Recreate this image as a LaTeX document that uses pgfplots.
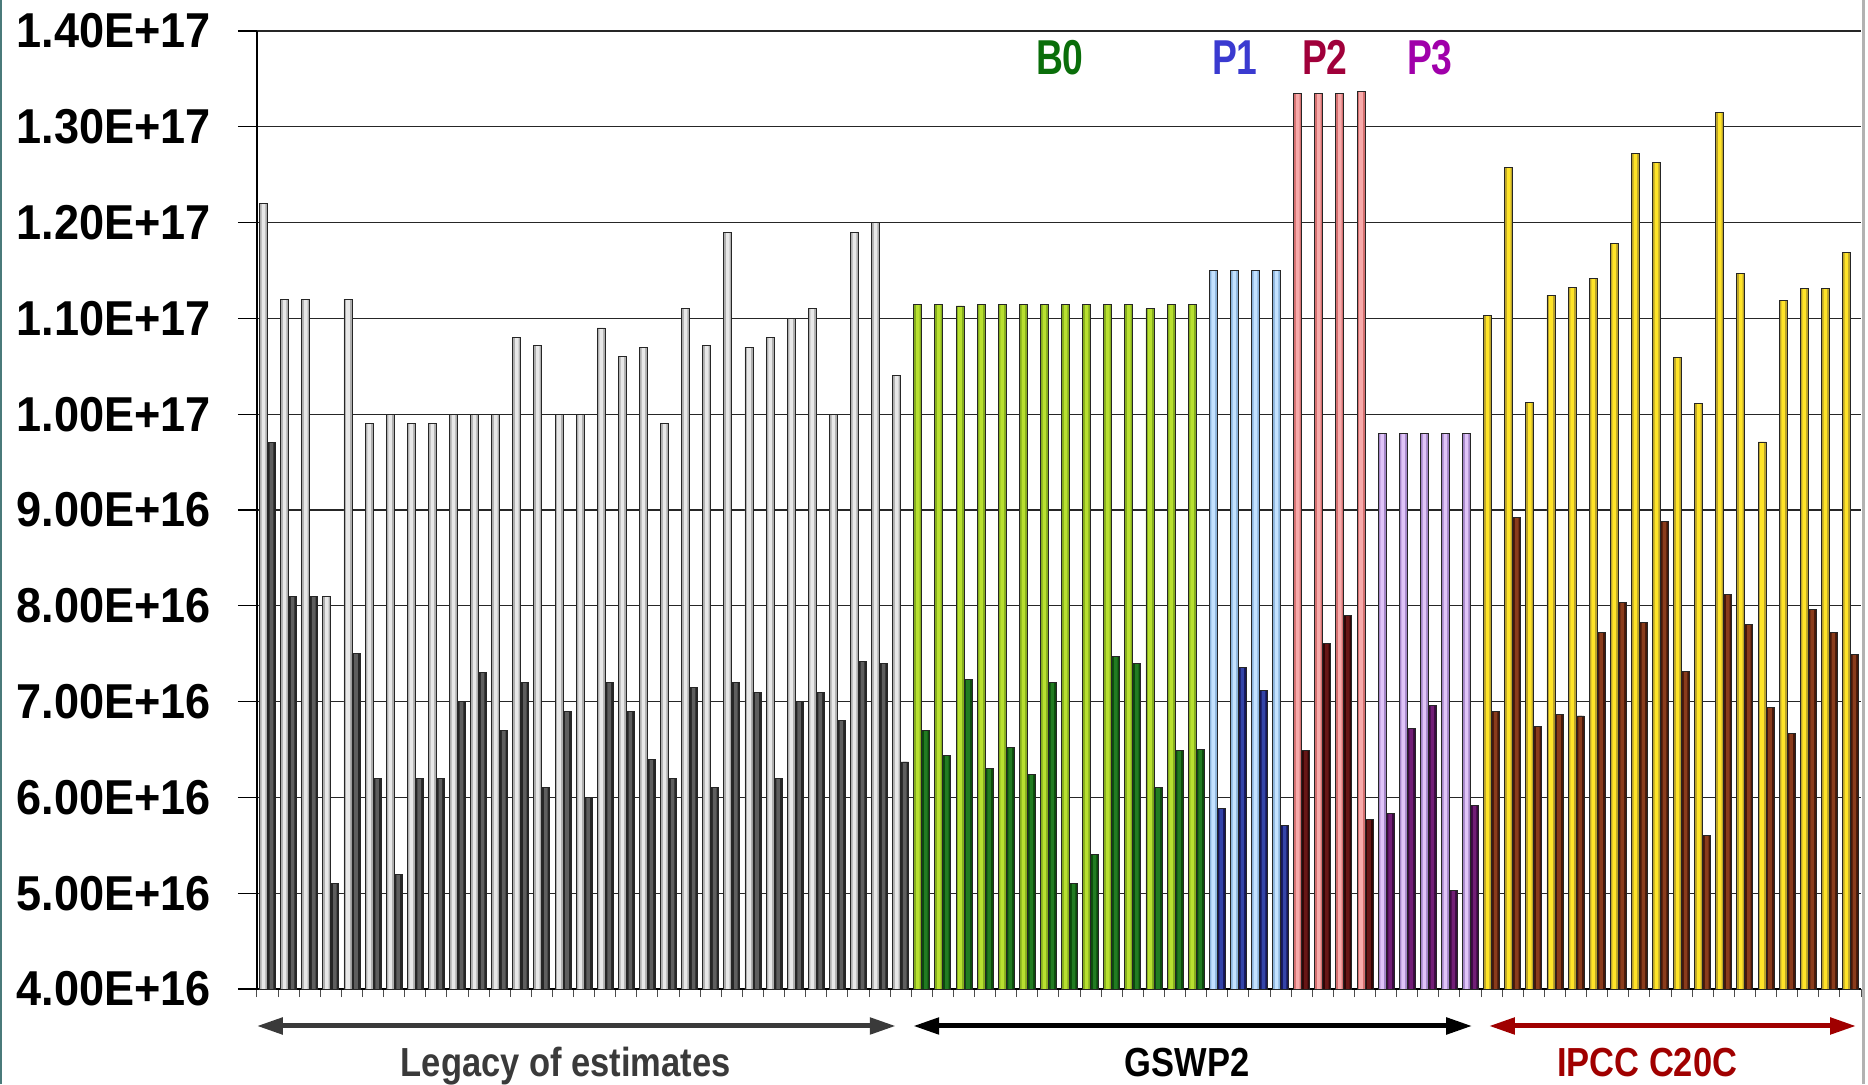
\documentclass[border=0pt]{standalone}
\usepackage{fontspec}
\setmainfont{Liberation Sans}
\newfontfamily\tickfont[FakeStretch=0.92]{Liberation Sans}
\newfontfamily\condfont[FakeStretch=0.85]{Liberation Sans}
\newfontfamily\topfont[FakeStretch=0.76]{Liberation Sans}
\usepackage{pgfplots}
\usepackage{pgfplotstable}
\pgfplotsset{compat=1.18}
\usetikzlibrary{arrows.meta}

% colours: base (edge) / stripe (middle) of each bar
\definecolor{gLe}{HTML}{AEAEAE}\definecolor{gLm}{HTML}{E8E8E8}
\definecolor{gDe}{HTML}{262626}\definecolor{gDm}{HTML}{5E5E5E}
\definecolor{nLe}{HTML}{86AE1E}\definecolor{nLm}{HTML}{B8E030}
\definecolor{nDe}{HTML}{0C4A0C}\definecolor{nDm}{HTML}{227C22}
\definecolor{bLe}{HTML}{8CB4DC}\definecolor{bLm}{HTML}{C4E2FF}
\definecolor{bDe}{HTML}{161658}\definecolor{bDm}{HTML}{3444A8}
\definecolor{rLe}{HTML}{D47070}\definecolor{rLm}{HTML}{F8AAAA}
\definecolor{rDe}{HTML}{300505}\definecolor{rDm}{HTML}{681616}
\definecolor{pLe}{HTML}{A486C8}\definecolor{pLm}{HTML}{E0C4F8}
\definecolor{pDe}{HTML}{3A0A40}\definecolor{pDm}{HTML}{721E76}
\definecolor{yLe}{HTML}{BCA42A}\definecolor{yLm}{HTML}{FFE428}
\definecolor{yDe}{HTML}{461809}\definecolor{yDm}{HTML}{8A3C1C}
\definecolor{txtB0}{HTML}{0A6E0A}
\definecolor{txtP1}{HTML}{3A3AD0}
\definecolor{txtP2}{HTML}{A0003A}
\definecolor{txtP3}{HTML}{A000AA}
\definecolor{legacyc}{HTML}{3A3A3A}
\definecolor{ipccc}{HTML}{A00000}
\definecolor{edgeteal}{HTML}{4A7A7A}

% values in units of 1E+16
\pgfplotstableread{
x light dark
0 12.2 9.7
1 11.2 8.1
2 11.2 8.1
3 8.1 5.1
4 11.2 7.5
5 9.9 6.2
6 10.0 5.2
7 9.9 6.2
8 9.9 6.2
9 10.0 7.0
10 10.0 7.3
11 10.0 6.7
12 10.8 7.2
13 10.72 6.1
14 10.0 6.9
15 10.0 6.0
16 10.9 7.2
17 10.6 6.9
18 10.7 6.4
19 9.9 6.2
20 11.1 7.15
21 10.72 6.1
22 11.9 7.2
23 10.7 7.1
24 10.8 6.2
25 11.0 7.0
26 11.1 7.1
27 10.0 6.8
28 11.9 7.42
29 12.0 7.4
30 10.4 6.37
}\legacy

\pgfplotstableread{
x light dark
31 11.15 6.70
32 11.15 6.44
33 11.13 7.23
34 11.15 6.30
35 11.15 6.52
36 11.15 6.24
37 11.15 7.20
38 11.15 5.10
39 11.15 5.40
40 11.15 7.47
41 11.15 7.40
42 11.10 6.10
43 11.15 6.49
44 11.15 6.50
}\bzero

\pgfplotstableread{
x light dark
45 11.5 5.88
46 11.5 7.36
47 11.5 7.12
48 11.5 5.71
}\pone

\pgfplotstableread{
x light dark
49 13.35 6.49
50 13.35 7.61
51 13.35 7.90
52 13.37 5.77
}\ptwo

\pgfplotstableread{
x light dark
53 9.8 5.83
54 9.8 6.72
55 9.8 6.96
56 9.8 5.03
57 9.8 5.92
}\pthree

\pgfplotstableread{
x light dark
58 11.03 6.90
59 12.58 8.92
60 10.12 6.74
61 11.24 6.87
62 11.32 6.85
63 11.42 7.72
64 11.78 8.03
65 12.72 7.83
66 12.63 8.88
67 10.59 7.31
68 10.11 5.60
69 13.15 8.12
70 11.47 7.81
71 9.71 6.94
72 11.19 6.67
73 11.31 7.96
74 11.31 7.72
75 11.69 7.49
}\ipcc

\pgfplotsset{
  basebar/.style={bar width=4pt, draw=none, fill=#1},
  stripebar/.style={bar width=1.8pt, draw=none, fill=#1},
  outlbar/.style={bar width=4pt, fill=none, draw=black!85, line width=0.45pt},
}
% \pairbars{table}{light base}{light stripe}{dark base}{dark stripe}
\newcommand{\pairbars}[5]{%
  \addplot[basebar=#2, bar shift=-2pt] table[x=x,y=light]{#1};
  \addplot[stripebar=#3, bar shift=-2pt] table[x=x,y=light]{#1};
  \addplot[outlbar, bar shift=-2pt] table[x=x,y=light]{#1};
  \addplot[basebar=#4, bar shift=2pt] table[x=x,y=dark]{#1};
  \addplot[stripebar=#5, bar shift=2pt] table[x=x,y=dark]{#1};
  \addplot[outlbar, bar shift=2pt] table[x=x,y=dark]{#1};
}

\begin{document}
\begin{tikzpicture}
\path[use as bounding box] (-128.5pt,-47.5pt) rectangle (805.5pt,494.5pt);
\begin{axis}[
  at={(0pt,0pt)}, anchor=south west,
  scale only axis, width=802pt, height=479pt,
  xmin=-0.5, xmax=75.5, ymin=4, ymax=14,
  ybar, bar width=4pt,
  clip mode=individual,
  axis lines*=left,
  axis line style={-, black, line width=0.7pt},
  ytick={4,5,...,14},
  yticklabels={4.00E+16,5.00E+16,6.00E+16,7.00E+16,8.00E+16,9.00E+16,1.00E+17,1.10E+17,1.20E+17,1.30E+17,1.40E+17},
  ymajorgrids,
  grid style={black!85, line width=0.6pt},
  tick align=outside,
  major tick length=9.5pt,
  xtick={-0.5,0.5,...,75.5},
  xticklabels={},
  xtick style={/pgfplots/major tick length=4pt, black!70, line width=0.5pt},
  ytick style={black, line width=0.6pt},
  yticklabel style={font=\tickfont\bfseries\fontsize{24.5}{26}\selectfont, anchor=east, xshift=-10pt},
]
\pairbars{\legacy}{gLe}{gLm}{gDe}{gDm}
\pairbars{\bzero}{nLe}{nLm}{nDe}{nDm}
\pairbars{\pone}{bLe}{bLm}{bDe}{bDm}
\pairbars{\ptwo}{rLe}{rLm}{rDe}{rDm}
\pairbars{\pthree}{pLe}{pLm}{pDe}{pDm}
\pairbars{\ipcc}{yLe}{yLm}{yDe}{yDm}

% group labels on top
\node[font=\topfont\bfseries\fontsize{24.5}{26}\selectfont, text=txtB0] at (axis cs:37.54,13.72) {B0};
\node[font=\topfont\bfseries\fontsize{24.5}{26}\selectfont, text=txtP1] at (axis cs:45.83,13.72) {P1};
\node[font=\topfont\bfseries\fontsize{24.5}{26}\selectfont, text=txtP2] at (axis cs:50.10,13.72) {P2};
\node[font=\topfont\bfseries\fontsize{24.5}{26}\selectfont, text=txtP3] at (axis cs:55.07,13.72) {P3};

% bottom arrows and labels
\draw[{Triangle[length=13pt,width=8pt]}-{Triangle[length=13pt,width=8pt]}, line width=2.5pt, color=legacyc]
  (axis cs:-0.51,3.614) -- (axis cs:29.77,3.614);
\draw[{Triangle[length=13pt,width=8pt]}-{Triangle[length=13pt,width=8pt]}, line width=2.5pt, color=black]
  (axis cs:30.59,3.614) -- (axis cs:57.08,3.614);
\draw[{Triangle[length=13pt,width=8pt]}-{Triangle[length=13pt,width=8pt]}, line width=2.5pt, color=ipccc]
  (axis cs:57.87,3.614) -- (axis cs:75.27,3.614);
\node[anchor=base, font=\condfont\bfseries\fontsize{20.3}{22}\selectfont, text=legacyc] at (axis cs:14.13,3.092) {Legacy of estimates};
\node[anchor=base, font=\condfont\bfseries\fontsize{20.3}{22}\selectfont, text=black] at (axis cs:43.57,3.092) {GSWP2};
\node[anchor=base, font=\condfont\bfseries\fontsize{20.3}{22}\selectfont, text=ipccc] at (axis cs:65.37,3.092) {IPCC C20C};
\end{axis}
\draw[gray!60, line width=1.5pt] (803pt,-47.5pt) -- (803pt,494.5pt);
\draw[edgeteal, line width=1pt] (-128pt,-47.5pt) -- (-128pt,494.5pt);
\end{tikzpicture}
\end{document}
